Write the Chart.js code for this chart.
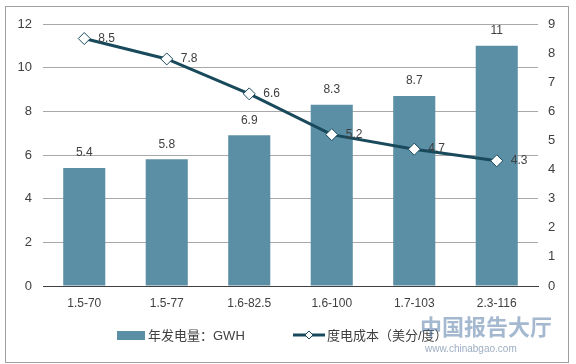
<!DOCTYPE html>
<html>
<head>
<meta charset="utf-8">
<script src="https://cdn.jsdelivr.net/npm/chart.js@4.4.0/dist/chart.umd.min.js"></script>
<style>
  body { margin: 0; background: #fff; }
  #wrap { position: relative; width: 576px; height: 364px; }
  #frame { position: absolute; left: 5px; top: 6px; width: 562px; height: 355px; border: 1px solid #a0a0a0; pointer-events: none; }
</style>
</head>
<body>
<div id="wrap">
  <canvas id="chart" width="576" height="364"></canvas>
  <div id="frame"></div>
</div>
<script>
const categories = ['1.5-70', '1.5-77', '1.6-82.5', '1.6-100', '1.7-103', '2.3-116'];
const generation = [5.4, 5.8, 6.9, 8.3, 8.7, 11];
const cost = [8.5, 7.8, 6.6, 5.2, 4.7, 4.3];
const barName = '年发电量：GWH';
const lineName = '度电成本（美分/度）';

const barColor = '#5b8fa6';
const lineColor = '#184a5c';
const textColor = '#404040';
const font = '"Liberation Sans", Arial, "Noto Sans CJK SC", sans-serif';

// value labels + legend + watermark, drawn after datasets
const extras = {
    id: 'extras',
    afterDatasetsDraw(chart) {
        const ctx = chart.ctx;
        ctx.save();
        ctx.font = '12px ' + font;
        ctx.fillStyle = textColor;

        // bar labels
        chart.getDatasetMeta(0).data.forEach(function (bar, i) {
            ctx.textAlign = 'center';
            ctx.textBaseline = 'middle';
            ctx.fillText(String(generation[i]), bar.x, bar.y - 15);
        });
        // line labels
        chart.getDatasetMeta(1).data.forEach(function (pt, i) {
            ctx.textAlign = 'left';
            ctx.textBaseline = 'middle';
            ctx.fillText(String(cost[i]), pt.x + 14, pt.y);
        });

        // legend
        const ly = 335;
        ctx.fillStyle = barColor;
        ctx.fillRect(117, ly - 4, 28, 9);
        ctx.fillStyle = textColor;
        ctx.font = '13px ' + font;
        ctx.textAlign = 'left';
        ctx.fillText(barName, 148, ly + 1);

        ctx.strokeStyle = lineColor;
        ctx.lineWidth = 3;
        ctx.beginPath();
        ctx.moveTo(293, ly);
        ctx.lineTo(325, ly);
        ctx.stroke();
        ctx.fillStyle = '#fff';
        ctx.lineWidth = 1;
        ctx.beginPath();
        ctx.moveTo(309, ly - 4);
        ctx.lineTo(313, ly);
        ctx.lineTo(309, ly + 4);
        ctx.lineTo(305, ly);
        ctx.closePath();
        ctx.fill();
        ctx.stroke();
        ctx.fillStyle = textColor;
        ctx.fillText(lineName, 327, ly + 1);

        // watermark
        ctx.globalAlpha = 0.55;
        ctx.fillStyle = '#5a7fa8';
        ctx.font = 'bold 22px "Noto Sans CJK SC", sans-serif';
        ctx.fillText('中国报告大厅', 420, 327);
        ctx.font = '10px ' + font;
        ctx.fillStyle = '#4a6a90';
        ctx.fillText('www.chinabgao.com', 425, 349);
        ctx.restore();
    }
};

new Chart(document.getElementById('chart'), {
    type: 'bar',
    data: {
        labels: categories,
        datasets: [{
            label: barName,
            data: generation,
            backgroundColor: barColor,
            yAxisID: 'y',
            categoryPercentage: 1,
            barPercentage: 0.51,
            order: 2
        }, {
            type: 'line',
            label: lineName,
            data: cost,
            yAxisID: 'y1',
            borderColor: lineColor,
            borderWidth: 3,
            pointStyle: 'rectRot',
            pointRadius: 6,
            pointBorderWidth: 1,
            pointBackgroundColor: '#fff',
            pointBorderColor: lineColor,
            tension: 0,
            order: 1
        }]
    },
    options: {
        responsive: false,
        animation: false,
        layout: { padding: { top: 24, left: 0, right: 0, bottom: 0 } },
        plugins: { legend: { display: false }, tooltip: { enabled: false } },
        scales: {
            x: {
                grid: { display: false, drawTicks: false },
                border: { color: '#404040', width: 1 },
                ticks: { color: textColor, font: { size: 12, family: font }, padding: 10 },
                afterFit(scale) { scale.height = 78; }
            },
            y: {
                position: 'left',
                min: 0, max: 12,
                ticks: { stepSize: 2, color: textColor, font: { size: 13, family: font }, padding: 11 },
                grid: { color: '#a8a8a8', drawTicks: false },
                border: { display: false },
                afterFit(scale) { scale.width = 43; }
            },
            y1: {
                position: 'right',
                min: 0, max: 9,
                ticks: { stepSize: 1, color: textColor, font: { size: 13, family: font }, padding: 10 },
                grid: { display: false, drawTicks: false },
                border: { display: false },
                afterFit(scale) { scale.width = 38; }
            }
        }
    },
    plugins: [extras]
});
</script>
</body>
</html>
